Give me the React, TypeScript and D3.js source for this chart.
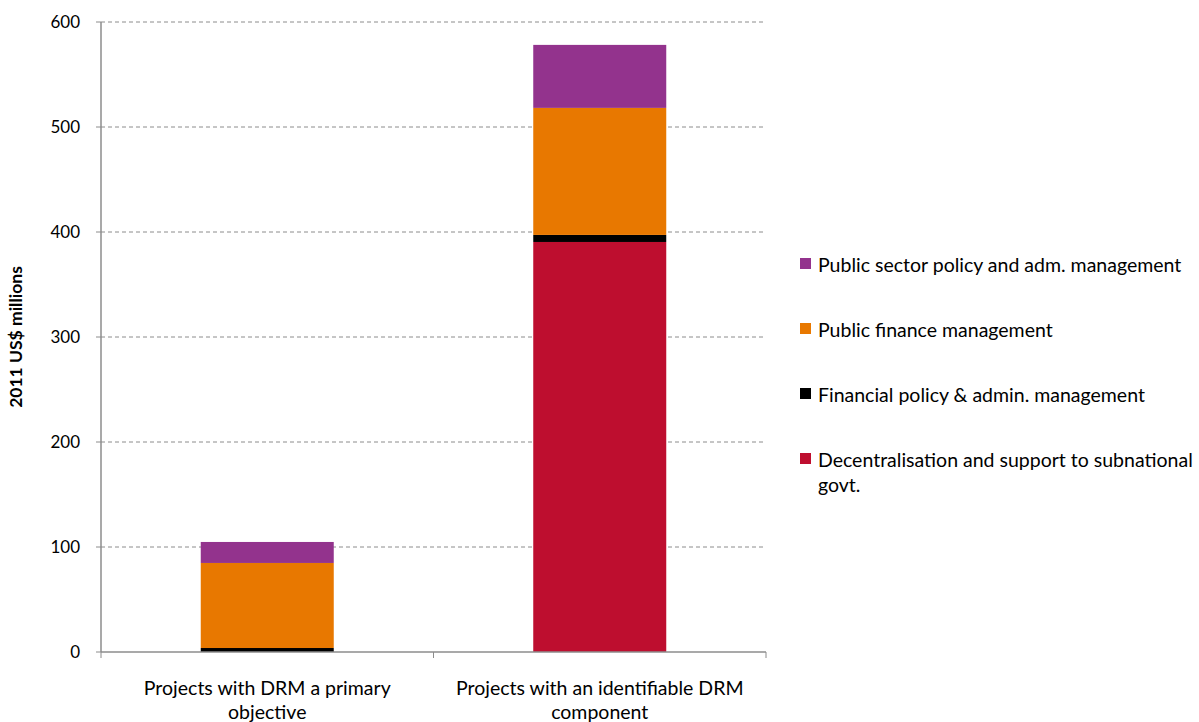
import React from "react";
import * as d3 from "d3";

const categories = ["Projects with DRM a primary objective", "Projects with an identifiable DRM component"];
const categoryLines = [["Projects with DRM a primary", "objective"], ["Projects with an identifiable DRM", "component"]];
const seriesNames = [
  "Decentralisation and support to subnational govt.",
  "Financial policy & admin. management",
  "Public finance management",
  "Public sector policy and adm. management",
];
const decentralisation = [0, 390.5];
const financialPolicy = [3.8, 6.7];
const publicFinance = [81, 121];
const publicSector = [20, 60];
const seriesColors = ["#BE0E2F", "#000000", "#E87800", "#93338D"];
const yTicks = [0, 100, 200, 300, 400, 500, 600];
const legendLines = [
  ["Public sector policy and adm. management"],
  ["Public finance management"],
  ["Financial policy & admin. management"],
  ["Decentralisation and support to subnational", "govt."],
];
const legendColors = ["#93338D", "#E87800", "#000000", "#BE0E2F"];

export default function App() {
  const W = 1199, H = 722;
  const left = 101, right = 766, top = 22, bottom = 652;
  const font = "Lato, 'Open Sans', sans-serif";
  const x = d3.scaleBand().domain(categories).range([left, right]).paddingInner(0.6).paddingOuter(0.3);
  const y = d3.scaleLinear().domain([0, 600]).range([bottom, top]);
  const table = categories.map((c, i) => ({
    cat: c,
    s0: decentralisation[i],
    s1: financialPolicy[i],
    s2: publicFinance[i],
    s3: publicSector[i],
  }));
  const stack = d3.stack<any>().keys(["s0", "s1", "s2", "s3"]);
  const layers = stack(table);
  const band = (right - left) / categories.length;

  return (
    <svg width={W} height={H} style={{ position: "absolute", left: 0, top: 0, background: "#fff" }} fontFamily={font}>
      {yTicks.filter(t => t > 0).map(t => (
        <line key={t} x1={left} x2={right} y1={y(t)} y2={y(t)} stroke="#8c8c8c" strokeWidth={1} strokeDasharray="4,3" />
      ))}
      {yTicks.map(t => (
        <line key={"tk" + t} x1={left - 5} x2={left} y1={y(t)} y2={y(t)} stroke="#8c8c8c" strokeWidth={1} />
      ))}
      {layers.map((layer, li) => (
        <g key={li} fill={seriesColors[li]}>
          {layer.map((d, i) => (
            <rect key={i} x={x(categories[i])} width={x.bandwidth()} y={y(d[1])} height={Math.max(0, y(d[0]) - y(d[1]))} />
          ))}
        </g>
      ))}
      <line x1={left} x2={left} y1={top} y2={bottom} stroke="#8c8c8c" strokeWidth={1.5} />
      <line x1={left} x2={right} y1={bottom} y2={bottom} stroke="#8c8c8c" strokeWidth={1.5} />
      {[0, 1, 2].map(i => (
        <line key={"xt" + i} x1={left + band * i} x2={left + band * i} y1={bottom} y2={bottom + 6} stroke="#8c8c8c" strokeWidth={1} />
      ))}
      {yTicks.map(t => (
        <text key={"yl" + t} x={80} y={y(t)} dy="0.35em" textAnchor="end" fontSize={17} fill="#000">{t}</text>
      ))}
      <text transform={`translate(22,${(top + bottom) / 2}) rotate(-90)`} textAnchor="middle" fontSize={17.5} fontWeight="bold" fill="#000">2011 US$ millions</text>
      {categories.map((c, i) => (
        <text key={c} textAnchor="middle" fontSize={19.5} fill="#000">
          {categoryLines[i].map((ln, j) => (
            <tspan key={j} x={(x(c) as number) + x.bandwidth() / 2} y={695 + j * 24}>{ln}</tspan>
          ))}
        </text>
      ))}
      {legendLines.map((lines, i) => (
        <g key={i}>
          <rect x={800} y={258 + i * 65} width={11} height={11} fill={legendColors[i]} />
          <text fontSize={19.5} fill="#000">
            {lines.map((ln, j) => (
              <tspan key={j} x={818} y={272 + i * 65 + j * 25}>{ln}</tspan>
            ))}
          </text>
        </g>
      ))}
    </svg>
  );
}
